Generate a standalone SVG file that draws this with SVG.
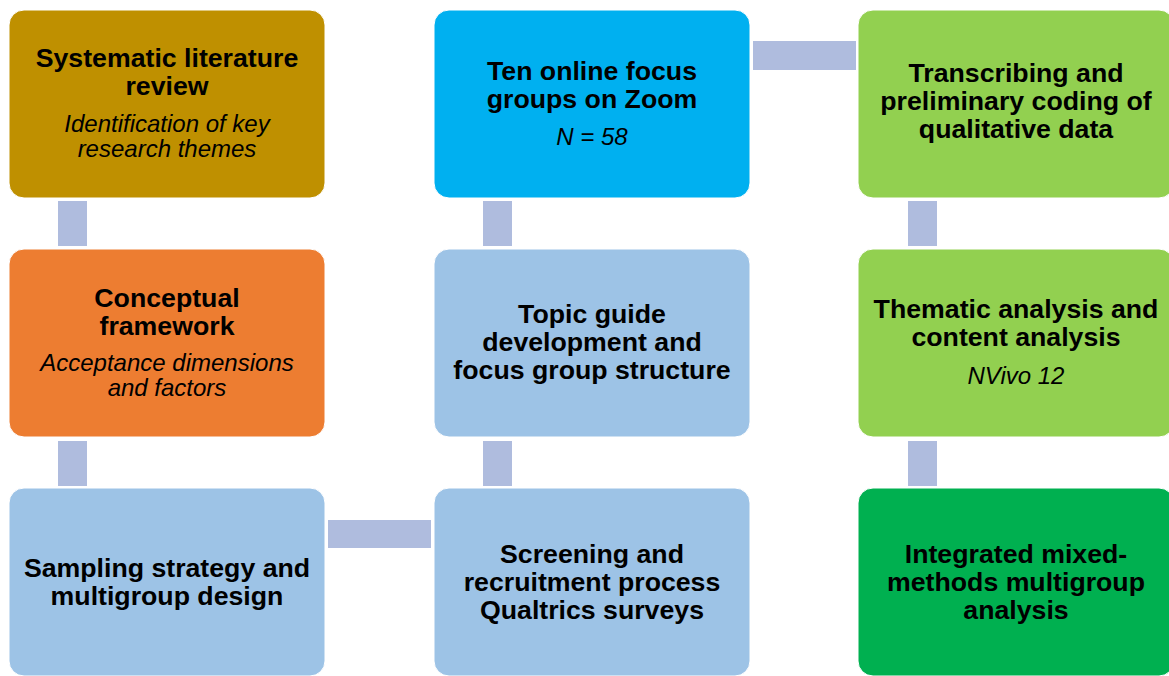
<svg xmlns="http://www.w3.org/2000/svg" width="1169" height="676" viewBox="0 0 1169 676">
  <style>
    .box { stroke: #ffffff; stroke-width: 1; }
    .link { fill: #AFBCDE; }
    .t { font-family: "Liberation Sans", Arial, sans-serif; fill: #000000; text-anchor: middle; }
    .b { font-weight: bold; font-size: 26.7px; }
    .i { font-style: italic; font-size: 24px; }
  </style>
  <rect width="1169" height="676" fill="#ffffff"/>

  <!-- connectors -->
  <g id="connectors">
    <rect class="link" x="58" y="201" width="29" height="45"/>
    <rect class="link" x="58" y="441" width="29" height="45"/>
    <rect class="link" x="328" y="520" width="103" height="28"/>
    <rect class="link" x="483" y="441" width="29" height="45"/>
    <rect class="link" x="483" y="201" width="29" height="45"/>
    <rect class="link" x="753" y="41" width="103" height="29"/>
    <rect class="link" x="908" y="201" width="29" height="45"/>
    <rect class="link" x="908" y="441" width="29" height="45"/>
  </g>

  <g id="literature-review">
    <rect class="box" x="9" y="10" width="316" height="188" rx="15" fill="#BF9000"/>
    <text class="t b" x="167" y="67">Systematic literature</text>
    <text class="t b" x="167" y="95">review</text>
    <text class="t i" x="167" y="132">Identification of key</text>
    <text class="t i" x="167" y="157">research themes</text>
  </g>

  <g id="conceptual-framework">
    <rect class="box" x="9" y="249" width="316" height="188" rx="15" fill="#ED7D31"/>
    <text class="t b" x="167" y="307">Conceptual</text>
    <text class="t b" x="167" y="335">framework</text>
    <text class="t i" x="167" y="371">Acceptance dimensions</text>
    <text class="t i" x="167" y="396">and factors</text>
  </g>

  <g id="sampling-strategy">
    <rect class="box" x="9" y="488" width="316" height="188" rx="15" fill="#9DC3E6"/>
    <text class="t b" x="167" y="577">Sampling strategy and</text>
    <text class="t b" x="167" y="605">multigroup design</text>
  </g>

  <g id="screening-recruitment">
    <rect class="box" x="434" y="488" width="316" height="188" rx="15" fill="#9DC3E6"/>
    <text class="t b" x="592" y="563">Screening and</text>
    <text class="t b" x="592" y="591">recruitment process</text>
    <text class="t b" x="592" y="619">Qualtrics surveys</text>
  </g>

  <g id="topic-guide">
    <rect class="box" x="434" y="249" width="316" height="188" rx="15" fill="#9DC3E6"/>
    <text class="t b" x="592" y="323">Topic guide</text>
    <text class="t b" x="592" y="351">development and</text>
    <text class="t b" x="592" y="379">focus group structure</text>
  </g>

  <g id="focus-groups">
    <rect class="box" x="434" y="10" width="316" height="188" rx="15" fill="#00B0F0"/>
    <text class="t b" x="592" y="80">Ten online focus</text>
    <text class="t b" x="592" y="108">groups on Zoom</text>
    <text class="t i" x="592" y="145">N = 58</text>
  </g>

  <g id="transcribing">
    <rect class="box" x="858" y="10" width="316" height="188" rx="15" fill="#92D050"/>
    <text class="t b" x="1016" y="82">Transcribing and</text>
    <text class="t b" x="1016" y="110">preliminary coding of</text>
    <text class="t b" x="1016" y="138">qualitative data</text>
  </g>

  <g id="thematic-analysis">
    <rect class="box" x="858" y="249" width="316" height="188" rx="15" fill="#92D050"/>
    <text class="t b" x="1016" y="318">Thematic analysis and</text>
    <text class="t b" x="1016" y="346">content analysis</text>
    <text class="t i" x="1016" y="384">NVivo 12</text>
  </g>

  <g id="mixed-methods">
    <rect class="box" x="858" y="488" width="316" height="188" rx="15" fill="#00B050"/>
    <text class="t b" x="1016" y="563">Integrated mixed-</text>
    <text class="t b" x="1016" y="591">methods multigroup</text>
    <text class="t b" x="1016" y="619">analysis</text>
  </g>
</svg>
